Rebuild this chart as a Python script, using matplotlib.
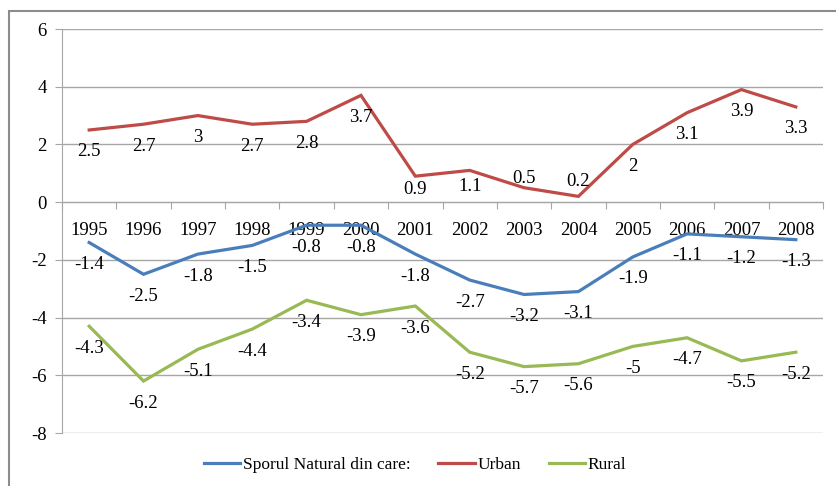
import numpy as np
import matplotlib.pyplot as plt
from matplotlib.patches import Rectangle

years = ["1995", "1996", "1997", "1998", "1999", "2000", "2001",
         "2002", "2003", "2004", "2005", "2006", "2007", "2008"]
sporul = [-1.4, -2.5, -1.8, -1.5, -0.8, -0.8, -1.8, -2.7, -3.2, -3.1, -1.9, -1.1, -1.2, -1.3]
urban = [2.5, 2.7, 3, 2.7, 2.8, 3.7, 0.9, 1.1, 0.5, 0.2, 2, 3.1, 3.9, 3.3]
rural = [-4.3, -6.2, -5.1, -4.4, -3.4, -3.9, -3.6, -5.2, -5.7, -5.6, -5, -4.7, -5.5, -5.2]

plt.rcParams["font.family"] = ["Liberation Serif", "DejaVu Serif"]
plt.rcParams["axes.unicode_minus"] = False

fig = plt.figure(figsize=(8.36, 4.86), dpi=100)
ax = fig.add_axes([62 / 836, 53 / 486, 761 / 836, 404 / 486])

x = np.arange(len(years)) + 0.5
series = [
    ("Sporul Natural din care:", sporul, "#4A7EBB"),
    ("Urban", urban, "#BE4B48"),
    ("Rural", rural, "#98B954"),
]

# label offsets in pixels (most sit below the point)
label_dy = {"Urban": {6: -13, 7: -16, 8: 9, 9: 15}}

for name, vals, col in series:
    ax.plot(x, vals, color=col, lw=2.3, label=name, solid_joinstyle="miter")
    for i, v in enumerate(vals):
        dy = label_dy.get(name, {}).get(i, -22)
        ax.annotate(f"{v:g}", (x[i], v), xytext=(0, dy), textcoords="offset pixels",
                    ha="center", va="center", fontsize=13.5)

ax.set_xlim(0, len(years))
ax.set_ylim(-8, 6)
ax.set_yticks(range(-8, 7, 2))
ax.yaxis.grid(True, color="#A6A6A6", lw=1)
ax.set_axisbelow(True)

ax.spines["top"].set_visible(False)
ax.spines["right"].set_visible(False)
ax.spines["left"].set_color("#A6A6A6")
ax.spines["bottom"].set_color("#A6A6A6")
ax.spines["bottom"].set_position(("data", 0))

ax.set_xticks(range(len(years) + 1))
ax.set_xticklabels([])
ax.set_xticks(x, minor=True)
ax.set_xticklabels(years, minor=True)
ax.tick_params(axis="x", which="major", length=5, color="#A6A6A6", direction="out")
ax.tick_params(axis="x", which="minor", length=0, pad=14, labelsize=13.5)
ax.tick_params(axis="y", length=5, color="#A6A6A6", pad=6, labelsize=13.5)

fig.legend(loc="center", bbox_to_anchor=(415 / 836, 1 - 465 / 486), ncol=3,
           frameon=False, fontsize=12.5, handlelength=2.1, handletextpad=0.15,
           columnspacing=1.6)

fig.patches.append(Rectangle((9 / 836, -0.1), 2, 1 - 11 / 486 + 0.1,
                             transform=fig.transFigure, fill=False,
                             edgecolor="#8C8C8C", lw=1.5))

fig.savefig("out.png", dpi=100)
